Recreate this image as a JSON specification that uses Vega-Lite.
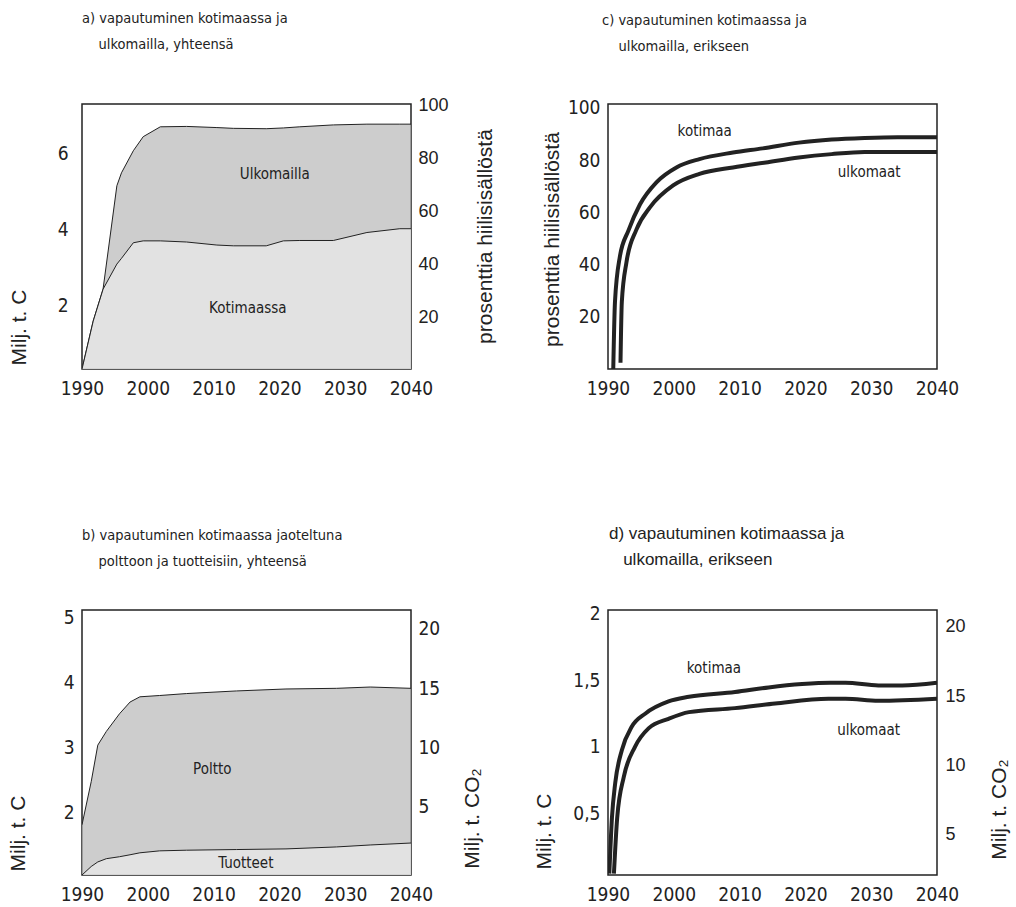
{
  "$schema": "https://vega.github.io/schema/vega-lite/v6.json",
  "padding": {"left": 6, "top": 9, "right": 5, "bottom": 5},
  "config": {
    "font": "Liberation Sans",
    "view": {"stroke": "#222", "strokeWidth": 1.5},
    "axis": {"grid": false, "ticks": false, "domain": false, "labelFont": "DejaVu Sans Condensed, Roboto, sans-serif", "labelFontSize": 19, "labelColor": "#222", "titleFont": "Liberation Sans", "titleFontSize": 21, "titleFontWeight": "normal", "titleColor": "#222", "labelPadding": 8, "labelOverlap": false, "labelFlush": false},
    "axisX": {"labelPadding": 10},
    "text": {"font": "DejaVu Sans Condensed, Roboto, sans-serif", "fontSize": 15, "color": "#222"},
    "title": {"font": "DejaVu Sans Condensed, Roboto, sans-serif", "fontSize": 14.5, "fontWeight": "normal", "color": "#222", "anchor": "start", "frame": "group", "lineHeight": 26}
  },
  "columns": 2,
  "spacing": {"row": 241, "column": 197},
  "bounds": "flush",
  "concat": [
    {
      "width": 329, "height": 265,
      "title": {"text": ["a) vapautuminen kotimaassa ja", "\u200b\u00a0\u00a0\u00a0\u00a0ulkomailla, yhteensä"], "offset": 44},
      "data": {"values": [
        {"year": 1990, "kotimaassa": 0.34, "yhteensa": 0.34},
        {"year": 1991.7, "kotimaassa": 1.6, "yhteensa": 1.6},
        {"year": 1993.2, "kotimaassa": 2.44, "yhteensa": 2.44},
        {"year": 1995.3, "kotimaassa": 3.1, "yhteensa": 5.16},
        {"year": 1996, "kotimaassa": 3.25, "yhteensa": 5.5},
        {"year": 1997.8, "kotimaassa": 3.66, "yhteensa": 6.08},
        {"year": 1999.3, "kotimaassa": 3.71, "yhteensa": 6.45},
        {"year": 2001.9, "kotimaassa": 3.71, "yhteensa": 6.71},
        {"year": 2005.9, "kotimaassa": 3.68, "yhteensa": 6.72},
        {"year": 2010.5, "kotimaassa": 3.6, "yhteensa": 6.69},
        {"year": 2013, "kotimaassa": 3.58, "yhteensa": 6.67},
        {"year": 2018, "kotimaassa": 3.58, "yhteensa": 6.66},
        {"year": 2020.6, "kotimaassa": 3.71, "yhteensa": 6.68},
        {"year": 2023.1, "kotimaassa": 3.72, "yhteensa": 6.71},
        {"year": 2028.2, "kotimaassa": 3.72, "yhteensa": 6.76},
        {"year": 2033.3, "kotimaassa": 3.93, "yhteensa": 6.78},
        {"year": 2038.3, "kotimaassa": 4.03, "yhteensa": 6.78},
        {"year": 2040, "kotimaassa": 4.03, "yhteensa": 6.78}
      ]},
      "layer": [
        {
          "layer": [
            {
              "mark": {"type": "area", "color": "#b8b8b8", "clip": true, "line": {"color": "#222", "strokeWidth": 1}},
              "encoding": {
                "x": {"field": "year", "type": "quantitative", "title": null, "scale": {"domain": [1990, 2040], "nice": false, "zero": false}, "axis": {"values": [1990, 2000, 2010, 2020, 2030, 2040], "format": "d"}},
                "y": {"field": "yhteensa", "type": "quantitative", "title": "Milj. t. C", "scale": {"domain": [0.34, 7.31], "nice": false, "zero": false}, "axis": {"orient": "left", "values": [2, 4, 6], "format": "d", "labelPadding": 14, "titleX": -63, "titleY": 223, "titleAngle": 270, "titleAlign": "center", "titleBaseline": "middle"}}
              }
            },
            {
              "mark": {"type": "area", "color": "#ebebeb", "clip": true, "line": {"color": "#222", "strokeWidth": 1}},
              "encoding": {
                "x": {"field": "year", "type": "quantitative", "title": null, "scale": {"domain": [1990, 2040], "nice": false, "zero": false}},
                "y": {"field": "kotimaassa", "type": "quantitative", "title": "Milj. t. C", "scale": {"domain": [0.34, 7.31], "nice": false, "zero": false}}
              }
            },
            {
              "data": {"values": [
                {"label": "Ulkomailla", "year": 2019.3, "value": 5.47},
                {"label": "Kotimaassa", "year": 2015.2, "value": 1.95}
              ]},
              "mark": {"type": "text"},
              "encoding": {
                "x": {"field": "year", "type": "quantitative", "title": null, "scale": {"domain": [1990, 2040], "nice": false, "zero": false}},
                "y": {"field": "value", "type": "quantitative", "title": "Milj. t. C", "scale": {"domain": [0.34, 7.31], "nice": false, "zero": false}},
                "text": {"field": "label"}
              }
            }
          ]
        },
        {
          "mark": {"type": "line", "opacity": 0},
          "encoding": {
            "x": {"field": "year", "type": "quantitative", "title": null, "scale": {"domain": [1990, 2040], "nice": false, "zero": false}},
            "y": {"field": "yhteensa", "type": "quantitative", "title": "prosenttia hiilisisällöstä", "scale": {"domain": [0.5, 100.4], "nice": false, "zero": false}, "axis": {"orient": "right", "values": [20, 40, 60, 80, 100], "labelFont": "Liberation Sans", "labelFontSize": 18, "labelPadding": 7, "titleX": 74, "titleY": 132, "titleAngle": 270, "titleAlign": "center", "titleBaseline": "middle"}}
          }
        }
      ],
      "resolve": {"scale": {"y": "independent"}}
    },
    {
      "width": 329, "height": 265,
      "title": {"text": ["c) vapautuminen kotimaassa ja", "\u200b\u00a0\u00a0\u00a0\u00a0ulkomailla, erikseen"], "offset": 44, "dx": -6},
      "data": {"values": [
        {"series": "kotimaa", "year": 1990.8, "value": 0},
        {"series": "kotimaa", "year": 1991.06, "value": 25.7},
        {"series": "kotimaa", "year": 1991.8, "value": 43},
        {"series": "kotimaa", "year": 1993.1, "value": 53},
        {"series": "kotimaa", "year": 1994.85, "value": 63},
        {"series": "kotimaa", "year": 1997.4, "value": 71.6},
        {"series": "kotimaa", "year": 2000.4, "value": 77.2},
        {"series": "kotimaa", "year": 2003.9, "value": 80.4},
        {"series": "kotimaa", "year": 2009, "value": 82.9},
        {"series": "kotimaa", "year": 2013.5, "value": 84.5},
        {"series": "kotimaa", "year": 2019, "value": 86.7},
        {"series": "kotimaa", "year": 2024, "value": 87.9},
        {"series": "kotimaa", "year": 2029, "value": 88.5},
        {"series": "kotimaa", "year": 2034, "value": 88.8},
        {"series": "kotimaa", "year": 2040, "value": 88.8},
        {"series": "ulkomaat", "year": 1991.9, "value": 2.4},
        {"series": "ulkomaat", "year": 1992.1, "value": 25.7},
        {"series": "ulkomaat", "year": 1992.8, "value": 40.8},
        {"series": "ulkomaat", "year": 1994.3, "value": 53.3},
        {"series": "ulkomaat", "year": 1996.4, "value": 62},
        {"series": "ulkomaat", "year": 1999.9, "value": 70.3},
        {"series": "ulkomaat", "year": 2003.9, "value": 74.7},
        {"series": "ulkomaat", "year": 2009, "value": 77.2},
        {"series": "ulkomaat", "year": 2014, "value": 79.1},
        {"series": "ulkomaat", "year": 2019, "value": 81},
        {"series": "ulkomaat", "year": 2024, "value": 82.3},
        {"series": "ulkomaat", "year": 2029, "value": 83.1},
        {"series": "ulkomaat", "year": 2040, "value": 83.1}
      ]},
      "layer": [
        {
          "mark": {"type": "line", "color": "#222", "strokeWidth": 4, "interpolate": "monotone", "clip": true},
          "encoding": {
            "x": {"field": "year", "type": "quantitative", "title": null, "scale": {"domain": [1990, 2040], "nice": false, "zero": false}, "axis": {"values": [1990, 2000, 2010, 2020, 2030, 2040], "format": "d"}},
            "y": {"field": "value", "type": "quantitative", "title": "prosenttia hiilisisällöstä", "scale": {"domain": [0, 101.5], "nice": false, "zero": false}, "axis": {"orient": "left", "values": [20, 40, 60, 80, 100], "format": "d", "titleX": -56, "titleY": 135, "titleAngle": 270, "titleAlign": "center", "titleBaseline": "middle"}},
            "detail": {"field": "series"}
          }
        },
        {
          "data": {"values": [
            {"label": "kotimaa", "year": 2004.7, "value": 91.2},
            {"label": "ulkomaat", "year": 2029.7, "value": 75.5}
          ]},
          "mark": {"type": "text"},
          "encoding": {
            "x": {"field": "year", "type": "quantitative", "title": null, "scale": {"domain": [1990, 2040], "nice": false, "zero": false}},
            "y": {"field": "value", "type": "quantitative", "title": "prosenttia hiilisisällöstä", "scale": {"domain": [0, 101.5], "nice": false, "zero": false}},
            "text": {"field": "label"}
          }
        }
      ]
    },
    {
      "width": 329, "height": 265,
      "title": {"text": ["b) vapautuminen kotimaassa jaoteltuna", "\u200b\u00a0\u00a0\u00a0\u00a0polttoon ja tuotteisiin, yhteensä"], "offset": 39},
      "data": {"values": [
        {"year": 1990, "tuotteet": 1.05, "yhteensa": 1.82},
        {"year": 1991.4, "tuotteet": 1.18, "yhteensa": 2.48},
        {"year": 1992.4, "tuotteet": 1.25, "yhteensa": 3.04},
        {"year": 1993.7, "tuotteet": 1.3, "yhteensa": 3.25},
        {"year": 1995.7, "tuotteet": 1.33, "yhteensa": 3.52},
        {"year": 1997.3, "tuotteet": 1.36, "yhteensa": 3.7},
        {"year": 1998.8, "tuotteet": 1.39, "yhteensa": 3.78},
        {"year": 2001.8, "tuotteet": 1.42, "yhteensa": 3.8},
        {"year": 2005.9, "tuotteet": 1.43, "yhteensa": 3.83},
        {"year": 2013.5, "tuotteet": 1.44, "yhteensa": 3.87},
        {"year": 2021, "tuotteet": 1.45, "yhteensa": 3.9},
        {"year": 2028.7, "tuotteet": 1.48, "yhteensa": 3.91},
        {"year": 2033.8, "tuotteet": 1.51, "yhteensa": 3.93},
        {"year": 2040, "tuotteet": 1.54, "yhteensa": 3.91}
      ]},
      "layer": [
        {
          "layer": [
            {
              "mark": {"type": "area", "color": "#b8b8b8", "clip": true, "line": {"color": "#222", "strokeWidth": 1}},
              "encoding": {
                "x": {"field": "year", "type": "quantitative", "title": null, "scale": {"domain": [1990, 2040], "nice": false, "zero": false}, "axis": {"values": [1990, 2000, 2010, 2020, 2030, 2040], "format": "d"}},
                "y": {"field": "yhteensa", "type": "quantitative", "title": "Milj. t. C", "scale": {"domain": [1.05, 5.11], "nice": false, "zero": false}, "axis": {"orient": "left", "values": [2, 3, 4, 5], "format": "d", "titleX": -64, "titleY": 223, "titleAngle": 270, "titleAlign": "center", "titleBaseline": "middle"}}
              }
            },
            {
              "mark": {"type": "area", "color": "#ebebeb", "clip": true, "line": {"color": "#222", "strokeWidth": 1}},
              "encoding": {
                "x": {"field": "year", "type": "quantitative", "title": null, "scale": {"domain": [1990, 2040], "nice": false, "zero": false}},
                "y": {"field": "tuotteet", "type": "quantitative", "title": "Milj. t. C", "scale": {"domain": [1.05, 5.11], "nice": false, "zero": false}}
              }
            },
            {
              "data": {"values": [
                {"label": "Poltto", "year": 2009.8, "value": 2.67},
                {"label": "Tuotteet", "year": 2014.9, "value": 1.23}
              ]},
              "mark": {"type": "text"},
              "encoding": {
                "x": {"field": "year", "type": "quantitative", "title": null, "scale": {"domain": [1990, 2040], "nice": false, "zero": false}},
                "y": {"field": "value", "type": "quantitative", "title": "Milj. t. C", "scale": {"domain": [1.05, 5.11], "nice": false, "zero": false}},
                "text": {"field": "label"}
              }
            }
          ]
        },
        {
          "mark": {"type": "line", "opacity": 0},
          "encoding": {
            "x": {"field": "year", "type": "quantitative", "title": null, "scale": {"domain": [1990, 2040], "nice": false, "zero": false}},
            "y": {"field": "yhteensa", "type": "quantitative", "title": "Milj. t. CO₂", "scale": {"domain": [-0.8, 21.6], "nice": false, "zero": false}, "axis": {"orient": "right", "values": [5, 10, 15, 20], "format": "d", "labelPadding": 7, "titleX": 61, "titleY": 208, "titleAngle": 270, "titleAlign": "center", "titleBaseline": "middle"}}
          }
        }
      ],
      "resolve": {"scale": {"y": "independent"}}
    },
    {
      "width": 329, "height": 265,
      "title": {"text": ["d) vapautuminen kotimaassa ja", "\u200b\u00a0\u00a0\u00a0ulkomailla, erikseen"], "offset": 35, "dx": 1, "font": "Liberation Sans", "fontSize": 17},
      "data": {"values": [
        {"series": "kotimaa", "year": 1990.2, "value": 0.05},
        {"series": "kotimaa", "year": 1990.6, "value": 0.47},
        {"series": "kotimaa", "year": 1991.1, "value": 0.73},
        {"series": "kotimaa", "year": 1992.1, "value": 0.975},
        {"series": "kotimaa", "year": 1993.6, "value": 1.15},
        {"series": "kotimaa", "year": 1995.7, "value": 1.25},
        {"series": "kotimaa", "year": 1999.2, "value": 1.34},
        {"series": "kotimaa", "year": 2002.3, "value": 1.375},
        {"series": "kotimaa", "year": 2009.3, "value": 1.41},
        {"series": "kotimaa", "year": 2014.4, "value": 1.445},
        {"series": "kotimaa", "year": 2019.5, "value": 1.47},
        {"series": "kotimaa", "year": 2023.8, "value": 1.48},
        {"series": "kotimaa", "year": 2026.1, "value": 1.48},
        {"series": "kotimaa", "year": 2031.1, "value": 1.46},
        {"series": "kotimaa", "year": 2034.7, "value": 1.46},
        {"series": "kotimaa", "year": 2040, "value": 1.48},
        {"series": "ulkomaat", "year": 1990.9, "value": 0.05},
        {"series": "ulkomaat", "year": 1991.4, "value": 0.47},
        {"series": "ulkomaat", "year": 1992.4, "value": 0.775},
        {"series": "ulkomaat", "year": 1994.1, "value": 1.0},
        {"series": "ulkomaat", "year": 1996.2, "value": 1.14},
        {"series": "ulkomaat", "year": 1999.2, "value": 1.21},
        {"series": "ulkomaat", "year": 2002.3, "value": 1.26},
        {"series": "ulkomaat", "year": 2009.3, "value": 1.29},
        {"series": "ulkomaat", "year": 2015.4, "value": 1.325},
        {"series": "ulkomaat", "year": 2023.5, "value": 1.36},
        {"series": "ulkomaat", "year": 2026.1, "value": 1.36},
        {"series": "ulkomaat", "year": 2031.1, "value": 1.345},
        {"series": "ulkomaat", "year": 2040, "value": 1.36}
      ]},
      "layer": [
        {
          "layer": [
            {
              "mark": {"type": "line", "color": "#222", "strokeWidth": 4, "interpolate": "monotone", "clip": true},
              "encoding": {
                "x": {"field": "year", "type": "quantitative", "title": null, "scale": {"domain": [1990, 2040], "nice": false, "zero": false}, "axis": {"values": [1990, 2000, 2010, 2020, 2030, 2040], "format": "d"}},
                "y": {"field": "value", "type": "quantitative", "title": "Milj. t. C", "scale": {"domain": [0.04, 2.025], "nice": false, "zero": false}, "axis": {"orient": "left", "values": [0.5, 1, 1.5, 2], "labelExpr": "replace(format(datum.value, '~g'), '.', ',')", "titleX": -64, "titleY": 221, "titleAngle": 270, "titleAlign": "center", "titleBaseline": "middle"}},
                "detail": {"field": "series"}
              }
            },
            {
              "data": {"values": [
                {"label": "kotimaa", "year": 2006.1, "value": 1.59},
                {"label": "ulkomaat", "year": 2029.6, "value": 1.125}
              ]},
              "mark": {"type": "text"},
              "encoding": {
                "x": {"field": "year", "type": "quantitative", "title": null, "scale": {"domain": [1990, 2040], "nice": false, "zero": false}},
                "y": {"field": "value", "type": "quantitative", "title": "Milj. t. C", "scale": {"domain": [0.04, 2.025], "nice": false, "zero": false}},
                "text": {"field": "label"}
              }
            }
          ]
        },
        {
          "mark": {"type": "line", "opacity": 0},
          "encoding": {
            "x": {"field": "year", "type": "quantitative", "title": null, "scale": {"domain": [1990, 2040], "nice": false, "zero": false}},
            "y": {"field": "value", "type": "quantitative", "title": "Milj. t. CO₂", "scale": {"domain": [2.1, 21.2], "nice": false, "zero": false}, "axis": {"orient": "right", "values": [5, 10, 15, 20], "format": "d", "labelFont": "Liberation Sans", "labelFontSize": 18, "labelPadding": 8, "titleX": 62, "titleY": 199, "titleAngle": 270, "titleAlign": "center", "titleBaseline": "middle"}},
            "detail": {"field": "series"}
          }
        }
      ],
      "resolve": {"scale": {"y": "independent"}}
    }
  ]
}
